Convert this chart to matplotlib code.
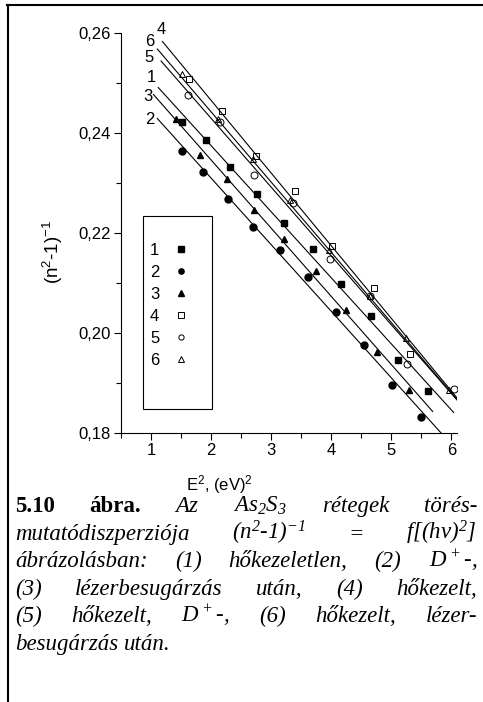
import numpy as np
import matplotlib as mpl
mpl.use('Agg')
import matplotlib.pyplot as plt
from matplotlib.lines import Line2D
from matplotlib.patches import Rectangle
from matplotlib.ticker import FuncFormatter, MultipleLocator

plt.rcParams['font.family'] = 'Liberation Sans'
plt.rcParams['mathtext.default'] = 'regular'

W, H = 483, 702

# measured points, E^2 (eV^2) vs (n^2-1)^-1
series_labels = ['1', '2', '3', '4', '5', '6']
x1 = [1.52, 1.92, 2.32, 2.76, 3.21, 3.69, 4.16, 4.66, 5.11, 5.62]
y1 = [0.2423, 0.2387, 0.2333, 0.2278, 0.2221, 0.2168, 0.2098, 0.2033, 0.1946, 0.1883]
x2 = [1.51, 1.87, 2.28, 2.69, 3.14, 3.61, 4.08, 4.55, 5.01, 5.49]
y2 = [0.2364, 0.2323, 0.2269, 0.2213, 0.2166, 0.2111, 0.2041, 0.1975, 0.1896, 0.1832]
x3 = [1.41, 1.82, 2.26, 2.72, 3.22, 3.74, 4.25, 4.77, 5.29]
y3 = [0.2428, 0.2356, 0.2309, 0.2247, 0.2188, 0.2125, 0.2046, 0.1961, 0.1885]
x4 = [1.63, 2.18, 2.75, 3.39, 4.02, 4.72, 5.32]
y4 = [0.2509, 0.2444, 0.2354, 0.2284, 0.2175, 0.2090, 0.1957]
x5 = [1.61, 2.15, 2.71, 3.36, 3.98, 4.65, 5.27, 6.05]
y5 = [0.2477, 0.2423, 0.2316, 0.2261, 0.2148, 0.2074, 0.1938, 0.1888]
x6 = [1.51, 2.11, 2.69, 3.31, 3.97, 4.65, 5.25, 5.96]
y6 = [0.2518, 0.2429, 0.2349, 0.2266, 0.2166, 0.2075, 0.1989, 0.1886]

# fitted straight lines (end points), order 1..6
fit_x0 = [1.12, 1.105, 1.04, 1.19, 1.167, 1.105]
fit_y0 = [0.2491, 0.2429, 0.2477, 0.2583, 0.2544, 0.2568]
fit_x1 = [6.04, 5.83, 5.69, 6.18, 6.095, 6.14]
fit_y1 = [0.1841, 0.1800, 0.1843, 0.1858, 0.1866, 0.1861]

xs = [x1, x2, x3, x4, x5, x6]
ys = [y1, y2, y3, y4, y5, y6]
markers = ['s', 'o', '^', 's', 'o', '^']
filled = [True, True, True, False, False, False]
# label offsets from line start, pixels (dx right, dy up)
lab_off = [(-6.7, 9.7), (-7.3, -1.0), (-5.0, -1.7), (-1.0, 12.5), (-12.5, 3.3), (-7.3, 7.3)]

caption_lines = [
    [("5.10", 'b'), ("ábra.", 'b'), ("Az", 'i'), ("As$_2$S$_3$", 'i'), ("rétegek", 'i'), ("törés-", 'i')],
    [("mutatódiszperziója", 'i'), ("(n$^2$-1)$^{-1}$", 'i'), ("=", 'i'), ("f[(hν)$^2$]", 'i')],
    [("ábrázolásban:", 'i'), ("(1)", 'i'), ("hőkezeletlen,", 'i'), ("(2)", 'i'), ("D$^+$-,", 'i')],
    [("(3)", 'i'), ("lézerbesugárzás", 'i'), ("után,", 'i'), ("(4)", 'i'), ("hőkezelt,", 'i')],
    [("(5)", 'i'), ("hőkezelt,", 'i'), ("D$^+$-,", 'i'), ("(6)", 'i'), ("hőkezelt,", 'i'), ("lézer-", 'i')],
    [("besugárzás", 'i'), ("után.", 'i')],
]

fig = plt.figure(figsize=(W / 100, H / 100), dpi=100)
ax = fig.add_axes([121 / W, 1 - 433 / H, (457.3 - 121) / W, 400 / H])

for i in range(6):
    ax.plot([fit_x0[i], fit_x1[i]], [fit_y0[i], fit_y1[i]], color='black', lw=0.8, zorder=2)
    if filled[i]:
        ax.plot(xs[i], ys[i], linestyle='none', marker=markers[i], ms=5, color='black', zorder=3)
    else:
        ax.plot(xs[i], ys[i], linestyle='none', marker=markers[i], ms=5, mfc='none',
                mec='black', mew=0.7, zorder=3)
    dx, dy = lab_off[i]
    ax.annotate(series_labels[i], xy=(fit_x0[i], fit_y0[i]), xytext=(dx * 0.72, dy * 0.72),
                textcoords='offset points', ha='center', va='center', fontsize=12)

ax.set_xlim(0.5, 6.1)
ax.set_ylim(0.18, 0.26)
ax.spines['top'].set_visible(False)
ax.spines['right'].set_visible(False)
ax.xaxis.set_major_locator(MultipleLocator(1))
ax.xaxis.set_minor_locator(MultipleLocator(0.5))
ax.yaxis.set_major_locator(MultipleLocator(0.02))
ax.yaxis.set_minor_locator(MultipleLocator(0.01))
ax.yaxis.set_major_formatter(FuncFormatter(lambda v, p: f"{v:.2f}".replace('.', ',')))
ax.xaxis.set_major_formatter(FuncFormatter(lambda v, p: f"{v:.0f}"))
ax.tick_params(which='major', direction='out', length=5, width=0.8, labelsize=12, pad=2.5)
ax.tick_params(which='minor', direction='out', length=3.5, width=0.8)
for s in ax.spines.values():
    s.set_linewidth(0.8)

fig.text(219 / W, 1 - 485 / H, "E$^2$, (eV)$^2$", ha='center', va='center', fontsize=12)
fig.text(53 / W, 1 - 252 / H, "(n$^2$-1)$^{-1}$", ha='center', va='center', rotation=90, fontsize=13.5)

# legend
handles = []
for i in range(6):
    if filled[i]:
        h = Line2D([], [], linestyle='none', marker=markers[i], ms=3.8, color='black')
    else:
        h = Line2D([], [], linestyle='none', marker=markers[i], ms=3.8, mfc='none', mec='black', mew=0.7)
    handles.append(h)
fig.legend(handles, series_labels, loc='upper left', bbox_to_anchor=(150 / W, 1 - 243 / H),
           frameon=False, markerfirst=False, fontsize=12, borderpad=0, borderaxespad=0,
           handlelength=1.0, handletextpad=0.8, labelspacing=0.42)
fig.add_artist(Rectangle((142.7 / W, 1 - 409 / H), 69 / W, 193 / H, transform=fig.transFigure,
                         fill=False, edgecolor='black', lw=0.8))

# page frame
fig.add_artist(Line2D([7 / W, 1], [1 - 5 / H, 1 - 5 / H], transform=fig.transFigure, color='black', lw=1.5))
fig.add_artist(Line2D([8 / W, 8 / W], [1 - 5 / H, 0], transform=fig.transFigure, color='black', lw=1.5))

# caption, justified word by word
renderer = fig.canvas.get_renderer()
left, right = 15, 477
for i, words in enumerate(caption_lines):
    yb = 1 - (512 + i * 27.6) / H
    texts = []
    for w, st in words:
        if st == 'b':
            t = fig.text(0, yb, w, family='Liberation Serif', fontweight='bold', fontsize=16.5, va='baseline')
        else:
            t = fig.text(0, yb, w, family='Liberation Serif', fontstyle='italic', fontsize=16.5, va='baseline')
        texts.append(t)
    widths = [t.get_window_extent(renderer).width for t in texts]
    if i < len(caption_lines) - 1:
        gap = (right - left - sum(widths)) / (len(texts) - 1)
    else:
        gap = 6
    x = left
    for t, w in zip(texts, widths):
        t.set_x(x / W)
        x += w + gap

fig.savefig('out.png', dpi=100)
